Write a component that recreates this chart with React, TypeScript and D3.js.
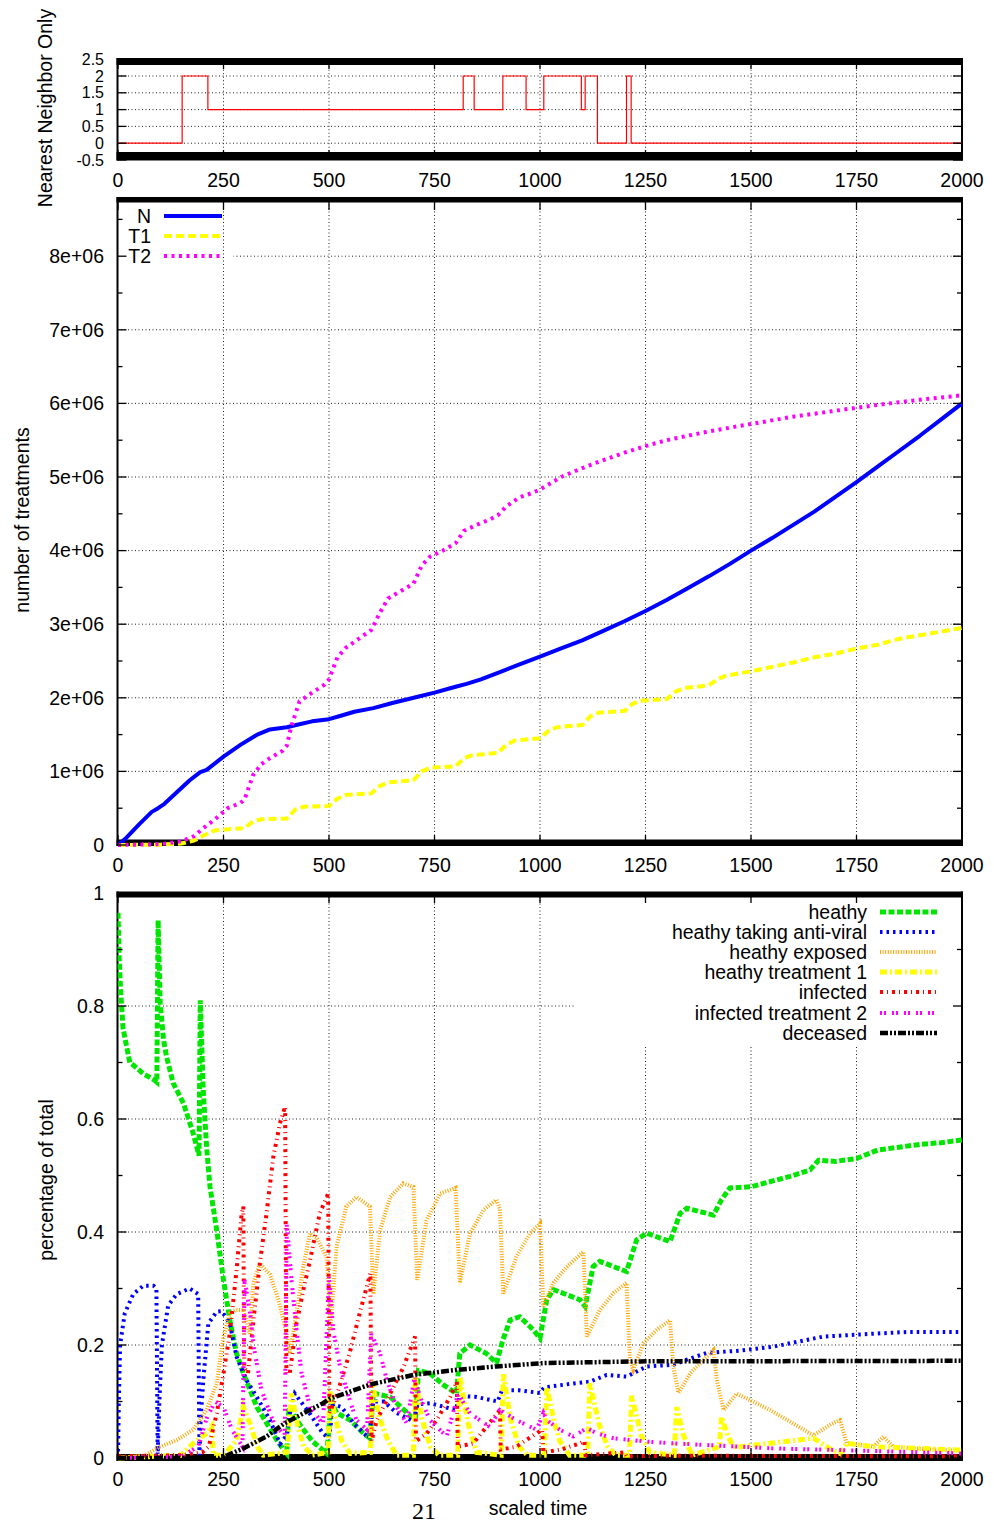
import React from 'react';
import * as d3 from 'd3';

// ---------- tick values / labels ----------
const xTickValues = [0, 250, 500, 750, 1000, 1250, 1500, 1750, 2000];
const nnYTicks = [-0.5, 0, 0.5, 1, 1.5, 2, 2.5];
const nnYLabels = ['-0.5', '0', '0.5', '1', '1.5', '2', '2.5'];
const treatYTicks = [0, 1, 2, 3, 4, 5, 6, 7, 8]; // millions
const treatYLabels = ['0', '1e+06', '2e+06', '3e+06', '4e+06', '5e+06', '6e+06', '7e+06', '8e+06'];
const treatMinor = [0.5, 1.5, 2.5, 3.5, 4.5, 5.5, 6.5, 7.5, 8.5];
const pctYTicks = [0, 0.2, 0.4, 0.6, 0.8, 1];
const pctYLabels = ['0', '0.2', '0.4', '0.6', '0.8', '1'];
const pctMinor = [0.1, 0.3, 0.5, 0.7, 0.9];

// ---------- top panel: nearest neighbour only (step) ----------
const nnTimes = [0, 152, 213, 818, 844, 912, 967, 1009, 1098, 1107, 1136, 1205, 1216, 2000];
const nnValues = [0, 2, 1, 2, 1, 2, 1, 2, 1, 2, 0, 2, 0, 0];

// ---------- middle panel: number of treatments (millions) ----------
const treatNames = ['N', 'T1', 'T2'];
const seriesN: [number, number][] = [[0,0],[20,0.1],[50,0.28],[80,0.45],[95,0.5],[110,0.56],[140,0.72],[170,0.88],[195,0.99],[210,1.02],[250,1.2],[290,1.36],[330,1.5],[360,1.57],[400,1.6],[430,1.64],[460,1.68],[500,1.71],[530,1.76],[560,1.81],[605,1.86],[650,1.93],[708,2.01],[750,2.07],[800,2.15],[826,2.19],[860,2.25],[905,2.35],[950,2.45],[1000,2.56],[1050,2.67],[1100,2.78],[1150,2.91],[1200,3.04],[1250,3.18],[1300,3.33],[1350,3.49],[1400,3.65],[1450,3.82],[1500,4.0],[1550,4.17],[1600,4.35],[1650,4.53],[1700,4.73],[1750,4.93],[1800,5.14],[1850,5.35],[1900,5.56],[1950,5.78],[2000,6.0]];
const seriesT1: [number, number][] = [[0,0],[100,0.005],[150,0.02],[180,0.06],[210,0.15],[230,0.2],[300,0.23],[320,0.32],[340,0.35],[400,0.36],[420,0.48],[440,0.52],[500,0.53],[520,0.63],[540,0.68],[600,0.7],[620,0.8],[640,0.85],[700,0.88],[720,1.0],[740,1.05],[800,1.07],[820,1.18],[840,1.22],[900,1.25],[920,1.36],[940,1.42],[1000,1.45],[1020,1.55],[1040,1.6],[1100,1.63],[1120,1.75],[1140,1.8],[1200,1.82],[1220,1.92],[1240,1.96],[1300,1.98],[1320,2.08],[1340,2.13],[1400,2.17],[1420,2.25],[1440,2.3],[1500,2.36],[1550,2.42],[1600,2.48],[1650,2.55],[1700,2.6],[1750,2.67],[1800,2.72],[1850,2.8],[1900,2.85],[1950,2.9],[2000,2.95]];
const seriesT2: [number, number][] = [[0,0],[100,0.01],[150,0.05],[180,0.12],[200,0.22],[230,0.35],[260,0.5],[290,0.57],[300,0.62],[320,0.95],[340,1.1],[360,1.18],[390,1.28],[400,1.35],[410,1.6],[430,1.95],[460,2.07],[490,2.18],[500,2.25],[520,2.55],[540,2.68],[570,2.8],[600,2.92],[620,3.15],[640,3.35],[670,3.45],[700,3.55],[720,3.8],[740,3.92],[770,4.0],[800,4.1],[820,4.27],[850,4.35],[880,4.42],[900,4.48],[920,4.6],[950,4.72],[980,4.78],[1000,4.83],[1050,5.0],[1100,5.12],[1150,5.23],[1200,5.33],[1250,5.42],[1300,5.5],[1400,5.62],[1500,5.72],[1600,5.82],[1700,5.9],[1800,5.98],[1900,6.05],[2000,6.11]];

// ---------- bottom panel: percentage of total ----------
const popNames = ['heathy', 'heathy taking anti-viral', 'heathy exposed', 'heathy treatment 1', 'infected', 'infected treatment 2', 'deceased'];
const heathy: [number, number][] = [[0,0.965],[3,0.88],[6,0.83],[12,0.76],[20,0.73],[28,0.7],[45,0.69],[60,0.68],[84,0.67],[92,0.665],[95,0.952],[100,0.805],[108,0.74],[115,0.71],[131,0.663],[155,0.628],[178,0.575],[192,0.535],[195,0.81],[202,0.65],[210,0.55],[218,0.48],[234,0.403],[250,0.315],[265,0.244],[281,0.185],[297,0.15],[313,0.12],[329,0.09],[352,0.062],[376,0.032],[392,0.015],[400,0.008],[405,0.09],[430,0.06],[460,0.03],[495,0.008],[505,0.1],[518,0.08],[550,0.067],[580,0.045],[597,0.035],[605,0.115],[645,0.108],[692,0.075],[705,0.07],[712,0.155],[739,0.15],[770,0.13],[802,0.114],[810,0.185],[834,0.2],[873,0.185],[897,0.168],[912,0.209],[929,0.244],[952,0.25],[984,0.227],[1000,0.212],[1016,0.28],[1032,0.298],[1095,0.28],[1107,0.268],[1126,0.339],[1142,0.348],[1205,0.33],[1229,0.386],[1253,0.398],[1308,0.383],[1332,0.433],[1348,0.442],[1411,0.43],[1430,0.457],[1450,0.478],[1500,0.48],[1550,0.49],[1600,0.5],[1640,0.51],[1660,0.527],[1700,0.525],[1750,0.53],[1800,0.545],[1850,0.55],[1900,0.555],[1950,0.558],[2000,0.563]];
const antiViral: [number, number][] = [[0,0],[2,0.1],[5,0.2],[16,0.256],[36,0.29],[60,0.305],[84,0.305],[91,0.3],[94,0.005],[98,0.1],[104,0.2],[119,0.27],[139,0.29],[170,0.3],[190,0.29],[193,0.005],[196,0.07],[202,0.137],[214,0.238],[234,0.259],[246,0.26],[265,0.238],[281,0.179],[305,0.137],[329,0.108],[360,0.067],[384,0.025],[400,0.04],[407,0.078],[419,0.114],[455,0.078],[486,0.043],[500,0.035],[510,0.095],[530,0.09],[560,0.06],[595,0.035],[605,0.1],[630,0.1],[660,0.08],[700,0.065],[710,0.095],[740,0.097],[800,0.085],[810,0.11],[850,0.108],[900,0.1],[910,0.12],[950,0.12],[1000,0.115],[1010,0.125],[1080,0.132],[1118,0.135],[1158,0.147],[1205,0.144],[1229,0.153],[1253,0.162],[1316,0.165],[1348,0.174],[1395,0.186],[1474,0.19],[1553,0.197],[1672,0.215],[1790,0.22],[1869,0.223],[2000,0.223]];
const exposed: [number, number][] = [[0,0],[60,0.003],[100,0.02],[140,0.032],[178,0.05],[194,0.067],[210,0.085],[234,0.132],[250,0.215],[265,0.256],[280,0.262],[297,0.262],[305,0.24],[312,0.22],[321,0.31],[336,0.344],[360,0.325],[380,0.28],[400,0.22],[407,0.185],[423,0.256],[439,0.338],[455,0.398],[471,0.39],[494,0.355],[500,0.3],[503,0.226],[518,0.374],[541,0.445],[565,0.462],[597,0.445],[605,0.29],[621,0.403],[645,0.462],[676,0.486],[700,0.48],[709,0.315],[731,0.42],[763,0.468],[800,0.478],[810,0.31],[834,0.397],[866,0.439],[897,0.457],[905,0.44],[913,0.291],[944,0.356],[976,0.397],[1000,0.415],[1008,0.268],[1032,0.31],[1063,0.338],[1103,0.365],[1111,0.215],[1142,0.262],[1174,0.292],[1205,0.31],[1213,0.174],[1221,0.156],[1245,0.203],[1277,0.227],[1308,0.244],[1316,0.162],[1328,0.115],[1356,0.15],[1411,0.191],[1419,0.138],[1435,0.085],[1466,0.114],[1545,0.085],[1648,0.04],[1690,0.06],[1711,0.067],[1727,0.026],[1790,0.02],[1814,0.038],[1837,0.02],[1900,0.016],[2000,0.013]];
const treatment1: [number, number][] = [[0,0],[150,0.005],[178,0.026],[210,0.044],[222,0.056],[226,0.005],[250,0.005],[280,0.03],[297,0.09],[313,0.06],[330,0.02],[344,0.005],[400,0.01],[405,0.05],[411,0.114],[425,0.06],[440,0.02],[460,0.005],[498,0.01],[502,0.12],[515,0.07],[530,0.03],[550,0.008],[598,0.01],[602,0.135],[620,0.07],[640,0.03],[660,0.005],[700,0.005],[704,0.143],[720,0.07],[740,0.02],[760,0.005],[805,0.005],[810,0.143],[830,0.06],[850,0.01],[908,0.005],[913,0.148],[930,0.07],[950,0.02],[970,0.005],[1010,0.005],[1016,0.125],[1035,0.06],[1047,0.03],[1070,0.005],[1113,0.005],[1118,0.132],[1140,0.06],[1160,0.02],[1180,0.005],[1212,0.005],[1217,0.11],[1240,0.04],[1260,0.01],[1318,0.005],[1324,0.09],[1340,0.04],[1360,0.005],[1425,0.02],[1430,0.073],[1445,0.04],[1458,0.02],[1474,0.02],[1545,0.026],[1648,0.035],[1690,0.015],[1711,0.008],[1727,0.026],[1790,0.02],[1900,0.017],[2000,0.014]];
const infected: [number, number][] = [[0,0.003],[150,0.005],[200,0.01],[215,0.02],[225,0.05],[234,0.079],[250,0.15],[265,0.221],[281,0.333],[293,0.433],[297,0.445],[299,0.16],[308,0.15],[321,0.244],[336,0.344],[352,0.433],[368,0.533],[384,0.593],[396,0.622],[399,0.15],[407,0.15],[423,0.238],[439,0.297],[455,0.35],[478,0.433],[498,0.468],[501,0.08],[518,0.11],[549,0.186],[573,0.257],[598,0.327],[601,0.03],[613,0.067],[645,0.114],[676,0.16],[704,0.215],[706,0.03],[731,0.043],[755,0.067],[787,0.108],[803,0.135],[805,0.02],[842,0.026],[873,0.055],[905,0.085],[907,0.015],[944,0.02],[976,0.036],[1005,0.05],[1008,0.01],[1050,0.015],[1095,0.026],[1105,0.03],[1108,0.005],[1200,0.01],[1205,0.003],[1300,0.004],[2000,0.003]];
const infectedT2: [number, number][] = [[0,0],[150,0.003],[190,0.02],[210,0.07],[230,0.1],[250,0.09],[270,0.05],[295,0.02],[300,0.315],[313,0.256],[321,0.2],[340,0.12],[370,0.06],[395,0.04],[400,0.415],[411,0.315],[423,0.227],[435,0.15],[455,0.09],[486,0.06],[500,0.32],[510,0.226],[526,0.162],[550,0.1],[565,0.067],[590,0.05],[600,0.22],[621,0.185],[637,0.138],[660,0.09],[684,0.062],[702,0.14],[720,0.1],[739,0.067],[779,0.038],[806,0.114],[834,0.079],[881,0.055],[905,0.085],[944,0.067],[992,0.05],[1008,0.08],[1016,0.067],[1047,0.05],[1079,0.038],[1111,0.053],[1134,0.044],[1174,0.035],[1213,0.032],[1253,0.029],[1316,0.026],[1395,0.023],[1474,0.02],[1553,0.017],[1711,0.014],[2000,0.008]];
const deceased: [number, number][] = [[0,0],[240,0],[260,0.005],[297,0.017],[352,0.038],[392,0.06],[439,0.079],[486,0.097],[502,0.105],[597,0.13],[700,0.147],[802,0.156],[897,0.162],[1008,0.168],[1237,0.171],[2000,0.172]];

const FONT = "'Liberation Sans', Arial, Helvetica, sans-serif";
const FS = 19.5;

export default function App() {
  const x = d3.scaleLinear().domain([0, 2000]).range([118, 962]);
  const yTop = d3.scaleLinear().domain([-0.5, 2.5]).range([160, 59.2]);
  const yMid = d3.scaleLinear().domain([0, 8.75]).range([845, 201]);
  const yBot = d3.scaleLinear().domain([0, 1]).range([1458, 893]);

  const L = 117.5, R = 962;

  const gridStyle = { stroke: '#222', strokeWidth: 1, strokeDasharray: '1,2.5', fill: 'none' } as const;

  const vGrid = (top: number, bottom: number, key: string) =>
    xTickValues.slice(1, -1).map(t => (
      <line key={key + t} x1={x(t)} x2={x(t)} y1={top} y2={bottom} style={gridStyle} />
    ));
  const hGrid = (ys: number[], x1: number, key: string) =>
    ys.map((yy, i) => <line key={key + i} x1={x1} x2={R} y1={yy} y2={yy} style={gridStyle} />);

  const frame = (top: number, bottom: number, bandTop: [number, number], bandBot: [number, number], key: string) => (
    <g key={key}>
      <line x1={L} x2={L} y1={top} y2={bottom} stroke="#000" strokeWidth={2} />
      <line x1={R} x2={R} y1={top} y2={bottom} stroke="#000" strokeWidth={2} />
      <rect x={L - 1} y={bandTop[0]} width={R - L + 2} height={bandTop[1] - bandTop[0]} fill="#000" />
      <rect x={L - 1} y={bandBot[0]} width={R - L + 2} height={bandBot[1] - bandBot[0]} fill="#000" />
    </g>
  );

  const xTicks = (top: number, bottom: number, key: string) =>
    xTickValues.map(t => (
      <g key={key + t}>
        <line x1={x(t)} x2={x(t)} y1={top} y2={top + 10} stroke="#000" strokeWidth={1.3} />
        <line x1={x(t)} x2={x(t)} y1={bottom} y2={bottom - 10} stroke="#000" strokeWidth={1.3} />
      </g>
    ));
  const yTicks = (ys: number[], len: number, key: string) =>
    ys.map((yy, i) => (
      <g key={key + i}>
        <line x1={L} x2={L + len} y1={yy} y2={yy} stroke="#000" strokeWidth={1.3} />
        <line x1={R} x2={R - len} y1={yy} y2={yy} stroke="#000" strokeWidth={1.3} />
      </g>
    ));
  const xLabels = (cy: number, key: string) =>
    xTickValues.map(t => (
      <text key={key + t} x={x(t)} y={cy} dy="0.35em" textAnchor="middle" fontFamily={FONT} fontSize={FS}>{t}</text>
    ));
  const yLabels = (ys: number[], labels: string[], key: string, fs: number = FS) =>
    ys.map((yy, i) => (
      <text key={key + i} x={104} y={yy} dy="0.35em" textAnchor="end" fontFamily={FONT} fontSize={fs}>{labels[i]}</text>
    ));

  // top step line
  const nnPts: [number, number][] = nnTimes.map((t, i) => [t, nnValues[i]]);
  const stepLine = d3.line<[number, number]>().x(d => x(d[0])).y(d => yTop(d[1])).curve(d3.curveStepAfter);

  const midLine = d3.line<[number, number]>().x(d => x(d[0])).y(d => yMid(d[1]));
  const botLine = d3.line<[number, number]>().x(d => x(d[0])).y(d => yBot(d[1]));

  const treatSeries = [
    { data: seriesN, color: '#0000ff', width: 4, dash: undefined as string | undefined },
    { data: seriesT1, color: '#ffff00', width: 4, dash: '8,4' },
    { data: seriesT2, color: '#ff00ff', width: 4, dash: '3,4.5' },
  ];
  const popSeries = [
    { data: heathy, color: '#00e600', width: 5, dash: '6,2.5' },
    { data: antiViral, color: '#0000ff', width: 4, dash: '2.5,4' },
    { data: exposed, color: '#ffa500', width: 4, dash: '1,1.6' },
    { data: treatment1, color: '#ffff00', width: 5, dash: '7,3,2,3' },
    { data: infected, color: '#ff0000', width: 4, dash: '3,4,1,4' },
    { data: infectedT2, color: '#ff00ff', width: 4, dash: '2,2,2,6' },
    { data: deceased, color: '#000000', width: 4.5, dash: '8,2,2,2,2,2' },
  ];
  const midLegendY = [216, 236, 256];
  const botLegendY = [912, 932, 952, 972, 992, 1013, 1033];

  return (
    <svg width={994} height={1525} viewBox="0 0 994 1525" style={{ position: 'absolute', left: 0, top: 0, background: '#fff' }}>
      <rect x={0} y={0} width={994} height={1525} fill="#fff" />
      <defs>
        <clipPath id="clipTop"><rect x={L} y={58} width={R - L + 1} height={103} /></clipPath>
        <clipPath id="clipMid"><rect x={L} y={197} width={R - L + 1} height={650} /></clipPath>
        <clipPath id="clipBot"><rect x={L} y={891} width={R - L + 1} height={571} /></clipPath>
      </defs>

      {/* ===== TOP PANEL ===== */}
      {vGrid(59.2, 160, 'tv')}
      {hGrid(nnYTicks.slice(1, -1).map(v => yTop(v)), L, 'th')}
      {frame(58, 160.5, [58, 65], [152, 160.5], 'tf')}
      <path d={stepLine(nnPts) || ''} fill="none" stroke="#ff0000" strokeWidth={1.2} clipPath="url(#clipTop)" />
      {xTicks(59, 160, 'tx')}
      {yTicks(nnYTicks.map(v => yTop(v)), 9, 'ty')}
      {xLabels(180, 'txl')}
      {yLabels(nnYTicks.map(v => yTop(v)), nnYLabels, 'tyl', 16)}
      <text transform="translate(45,108) rotate(-90)" dy="0.35em" textAnchor="middle" fontFamily={FONT} fontSize={FS}>Nearest Neighbor Only</text>

      {/* ===== MIDDLE PANEL ===== */}
      {hGrid(treatYTicks.slice(1).map(v => yMid(v)), L, 'mh')}
      <rect x={L + 1} y={203} width={115} height={63} fill="#fff" />
      {vGrid(201, 845, 'mv')}
      {frame(197, 846, [197, 202.5], [839.5, 846], 'mf')}
      <g clipPath="url(#clipMid)">
        {treatSeries.map((s, i) => (
          <path key={'ms' + i} d={midLine(s.data) || ''} fill="none" stroke={s.color} strokeWidth={s.width}
            strokeDasharray={s.dash} strokeLinejoin="round" />
        ))}
      </g>
      {xTicks(200, 845, 'mx')}
      {yTicks(treatYTicks.map(v => yMid(v)), 9, 'my')}
      {yTicks(treatMinor.map(v => yMid(v)), 5, 'mym')}
      {xLabels(865, 'mxl')}
      {yLabels(treatYTicks.map(v => yMid(v)), treatYLabels, 'myl')}
      <text transform="translate(22,520) rotate(-90)" dy="0.35em" textAnchor="middle" fontFamily={FONT} fontSize={FS}>number of treatments</text>
      {treatNames.map((n, i) => (
        <g key={'ml' + i}>
          <text x={151} y={midLegendY[i]} dy="0.35em" textAnchor="end" fontFamily={FONT} fontSize={FS}>{n}</text>
          <line x1={164} x2={222} y1={midLegendY[i]} y2={midLegendY[i]} stroke={treatSeries[i].color}
            strokeWidth={treatSeries[i].width} strokeDasharray={treatSeries[i].dash} />
        </g>
      ))}

      {/* ===== BOTTOM PANEL ===== */}
      {vGrid(893, 1458, 'bv')}
      {hGrid(pctYTicks.slice(1, -1).map(v => yBot(v)), L, 'bh')}
      <rect x={575} y={898} width={R - 576} height={147} fill="#fff" />
      {frame(891.5, 1461, [891.5, 897.5], [1454, 1461], 'bf')}
      <g clipPath="url(#clipBot)">
        {popSeries.map((s, i) => (
          <path key={'bs' + i} d={botLine(s.data) || ''} fill="none" stroke={s.color} strokeWidth={s.width}
            strokeDasharray={s.dash} strokeLinejoin="miter" />
        ))}
      </g>
      {xTicks(893, 1458, 'bx')}
      {yTicks(pctYTicks.map(v => yBot(v)), 9, 'by')}
      {yTicks(pctMinor.map(v => yBot(v)), 5, 'bym')}
      {xLabels(1479, 'bxl')}
      {yLabels(pctYTicks.map(v => yBot(v)), pctYLabels, 'byl')}
      <text transform="translate(46,1180) rotate(-90)" dy="0.35em" textAnchor="middle" fontFamily={FONT} fontSize={FS}>percentage of total</text>
      {popNames.map((n, i) => (
        <g key={'bl' + i}>
          <text x={867} y={botLegendY[i]} dy="0.35em" textAnchor="end" fontFamily={FONT} fontSize={FS}>{n}</text>
          <line x1={880} x2={937} y1={botLegendY[i]} y2={botLegendY[i]} stroke={popSeries[i].color}
            strokeWidth={popSeries[i].width} strokeDasharray={popSeries[i].dash} />
        </g>
      ))}
      <text x={538} y={1508} dy="0.35em" textAnchor="middle" fontFamily={FONT} fontSize={FS}>scaled time</text>
      <text x={424} y={1511} dy="0.35em" textAnchor="middle" fontFamily="'Liberation Serif', 'Times New Roman', serif" fontSize={24}>21</text>
    </svg>
  );
}
